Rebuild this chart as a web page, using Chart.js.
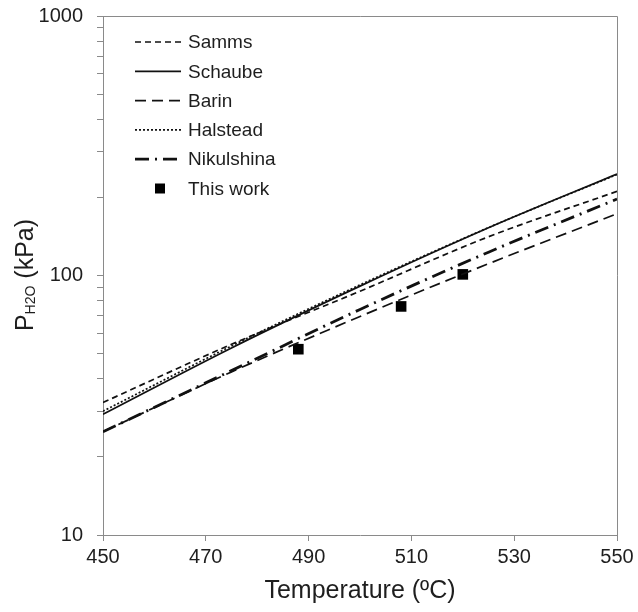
<!DOCTYPE html>
<html>
<head>
<meta charset="utf-8">
<title>Water vapour pressure</title>
<script src="https://cdn.jsdelivr.net/npm/chart.js@4.4.0/dist/chart.umd.min.js"></script>
<style>
    html, body { margin: 0; padding: 0; background: #fff; }
</style>
</head>
<body>
<canvas id="pressureChart" width="638" height="612"></canvas>
<script>
// Equilibrium pressure curves (kPa) at each temperature (°C)
const temps = [450, 475, 500, 525, 550];
const samms = [32.4, 54.3, 87, 141, 211];
const schaube = [29.2, 52.6, 91, 152.7, 246];
const barin = [25, 42.5, 69.5, 111, 173];
const halstead = [30, 53.5, 92, 153, 245];
const nikulshina = [25, 43, 74, 123, 197];

// Measured points
const workTemps = [488, 508, 520];
const workValues = [52, 76, 101];

const xTicks = [450, 470, 490, 510, 530, 550];
const yTicks = [10, 20, 30, 40, 50, 60, 70, 80, 90,
                100, 200, 300, 400, 500, 600, 700, 800, 900, 1000];
const yLabels = [10, 100, 1000];

const FONT = '"Liberation Sans", Arial, sans-serif';
const AXIS_GRAY = '#8a8a8a';
const TEXT = '#1e1e1e';

function toPoints(xs, ys) {
    return xs.map((x, i) => ({ x: x, y: ys[i] }));
}

function curve(label, values, dash, width) {
    return {
        label: label,
        data: toPoints(temps, values),
        showLine: true,
        borderColor: '#111',
        borderWidth: width,
        borderDash: dash,
        pointRadius: 0,
        cubicInterpolationMode: 'monotone',
        fill: false
    };
}

// Box round the plot area (top and right sides)
const frame = {
    id: 'frame',
    afterDraw(chart) {
        const { ctx, chartArea: a } = chart;
        ctx.save();
        ctx.strokeStyle = AXIS_GRAY;
        ctx.lineWidth = 1;
        ctx.beginPath();
        ctx.moveTo(a.left, a.top + 0.5);
        ctx.lineTo(a.right + 0.5, a.top + 0.5);
        ctx.lineTo(a.right + 0.5, a.bottom);
        ctx.stroke();
        ctx.restore();
    }
};

// Y title with subscript: P_H2O (kPa)
const yTitle = {
    id: 'yTitle',
    afterDraw(chart) {
        const ctx = chart.ctx;
        const big = '25px ' + FONT;
        const small = '14px ' + FONT;
        ctx.save();
        ctx.font = big;
        const wP = ctx.measureText('P').width;
        const wRest = ctx.measureText(' (kPa)').width;
        ctx.font = small;
        const wSub = ctx.measureText('H2O').width;
        const total = wP + wSub + wRest;
        ctx.translate(33, 275);
        ctx.rotate(-Math.PI / 2);
        ctx.fillStyle = TEXT;
        ctx.textBaseline = 'alphabetic';
        ctx.textAlign = 'left';
        let x = -total / 2;
        ctx.font = big;
        ctx.fillText('P', x, 0);
        x += wP;
        ctx.font = small;
        ctx.fillText('H2O', x, 2);
        x += wSub;
        ctx.font = big;
        ctx.fillText(' (kPa)', x, 0);
        ctx.restore();
    }
};

// Legend drawn inside the plot, one row per dataset
const insideLegend = {
    id: 'insideLegend',
    afterDraw(chart) {
        const ctx = chart.ctx;
        const lineX0 = 135, lineX1 = 181, textX = 188;
        const rowY0 = 42, rowStep = 29.3;
        ctx.save();
        ctx.font = '19px ' + FONT;
        ctx.fillStyle = TEXT;
        ctx.textBaseline = 'middle';
        chart.data.datasets.forEach((ds, i) => {
            const y = rowY0 + i * rowStep;
            if (ds.showLine) {
                ctx.save();
                ctx.strokeStyle = ds.borderColor;
                ctx.lineWidth = ds.borderWidth;
                ctx.setLineDash(ds.borderDash || []);
                ctx.beginPath();
                ctx.moveTo(lineX0, y);
                ctx.lineTo(lineX1, y);
                ctx.stroke();
                ctx.restore();
            } else {
                ctx.fillStyle = ds.backgroundColor;
                ctx.fillRect(155, y - 5, 10, 10);
                ctx.fillStyle = TEXT;
            }
            ctx.fillText(ds.label, textX, y + 1);
        });
        ctx.restore();
    }
};

const ctx = document.getElementById('pressureChart').getContext('2d');

new Chart(ctx, {
    type: 'scatter',
    data: {
        datasets: [
            curve('Samms', samms, [6, 4], 1.7),
            curve('Schaube', schaube, [], 1.7),
            curve('Barin', barin, [11, 6], 1.7),
            curve('Halstead', halstead, [2, 2], 1.7),
            curve('Nikulshina', nikulshina, [14, 6, 2, 6], 2.8),
            {
                label: 'This work',
                data: toPoints(workTemps, workValues),
                showLine: false,
                pointStyle: 'rect',
                pointRadius: 7.5,
                backgroundColor: '#000',
                borderColor: '#000',
                borderWidth: 0
            }
        ]
    },
    options: {
        responsive: false,
        animation: false,
        events: [],
        layout: { padding: { left: 0, top: 16, right: 21, bottom: 0 } },
        plugins: {
            legend: { display: false },
            tooltip: { enabled: false }
        },
        scales: {
            x: {
                type: 'linear',
                min: 450,
                max: 550,
                afterFit: s => { s.height = 77; },
                afterBuildTicks: s => { s.ticks = xTicks.map(v => ({ value: v })); },
                grid: { drawOnChartArea: false, drawTicks: true, tickLength: 6, color: AXIS_GRAY },
                border: { display: true, color: AXIS_GRAY, width: 1 },
                ticks: {
                    autoSkip: false,
                    maxRotation: 0,
                    padding: 4,
                    color: TEXT,
                    font: { family: FONT, size: 20 },
                    callback: v => String(v)
                },
                title: {
                    display: true,
                    text: 'Temperature (ºC)',
                    color: TEXT,
                    font: { family: FONT, size: 25 },
                    padding: { top: 0, bottom: 6 }
                }
            },
            y: {
                type: 'logarithmic',
                min: 10,
                max: 1000,
                afterFit: s => {
                    s.width = 103;
                    // let the layout padding alone set the top edge
                    s.paddingTop = 0;
                    s.paddingBottom = 0;
                },
                afterBuildTicks: s => { s.ticks = yTicks.map(v => ({ value: v })); },
                grid: { drawOnChartArea: false, drawTicks: true, tickLength: 6, color: AXIS_GRAY },
                border: { display: true, color: AXIS_GRAY, width: 1 },
                ticks: {
                    autoSkip: false,
                    padding: 14,
                    color: TEXT,
                    font: { family: FONT, size: 20 },
                    callback: v => yLabels.includes(v) ? String(v) : ''
                }
            }
        }
    },
    plugins: [frame, yTitle, insideLegend]
});
</script>
</body>
</html>
